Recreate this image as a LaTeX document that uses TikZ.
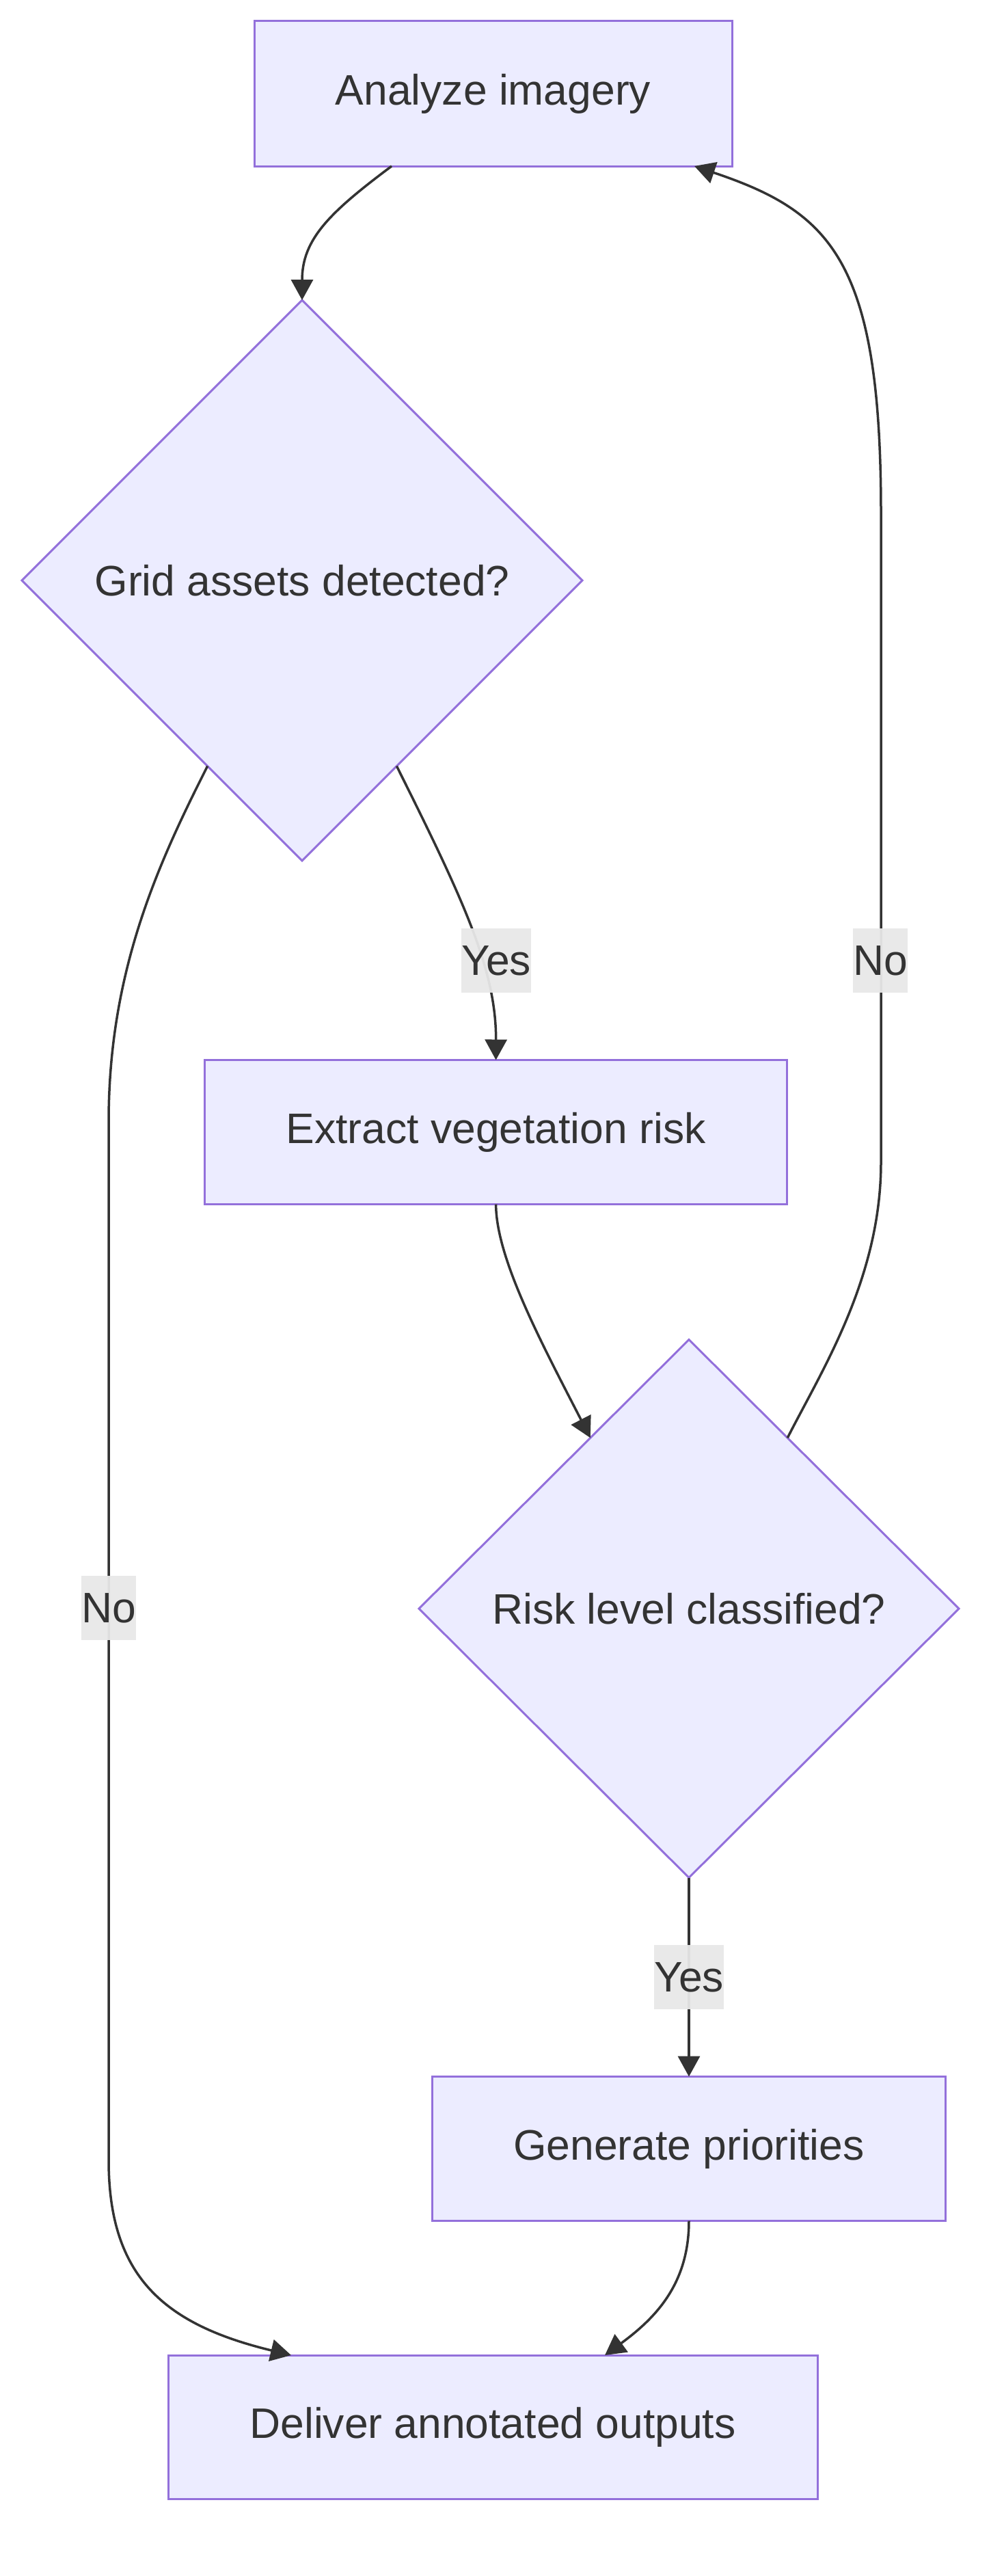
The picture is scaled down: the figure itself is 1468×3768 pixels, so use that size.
\documentclass[tikz,border=0pt]{standalone}
\usepackage{fontspec}
\setmainfont{Liberation Sans}
\usetikzlibrary{shapes.geometric,arrows.meta,calc}
\definecolor{nodefill}{HTML}{ECECFF}
\definecolor{nodeline}{HTML}{9370DB}
\definecolor{edgecol}{HTML}{333333}
\definecolor{labelbg}{HTML}{E8E8E8}
\tikzset{
  box/.style={draw=nodeline, fill=nodefill, line width=1.5pt, inner sep=0pt, outer sep=0pt,
    font=\fontsize{31.2pt}{37pt}\selectfont, text=edgecol},
  decision/.style={box, shape=diamond, aspect=1},
  edge/.style={draw=edgecol, line width=1.75pt, -{Triangle[length=15pt,width=16pt]}},
  elabel/.style={fill=labelbg, fill opacity=0.95, text opacity=1, text=edgecol, inner xsep=0pt, inner ysep=0pt,
    minimum height=47pt, font=\fontsize{31.2pt}{37pt}\selectfont},
}
\begin{document}
\begin{tikzpicture}[x=0.5pt, y=-0.5pt]
\useasboundingbox (0,0) rectangle (1468,3768);
% nodes
\node[box, minimum width=349.5pt, minimum height=106pt] (A) at (721.5,137) {Analyze imagery};
\node[decision, minimum width=410pt, minimum height=410pt] (B) at (442,849) {Grid assets detected?};
\node[box, minimum width=426pt, minimum height=105.5pt] (C) at (725.6,1656) {Extract vegetation risk};
\node[decision, minimum width=395pt, minimum height=393.5pt] (D) at (1008,2353) {Risk level classified?};
\node[box, minimum width=375.5pt, minimum height=105.5pt] (E) at (1008,3143) {Generate priorities};
\node[box, minimum width=475pt, minimum height=105pt] (F) at (721,3550) {Deliver annotated outputs};
% edges
\draw[edge] ($(A.south)+(-148.5,0)$) .. controls (482,311) and (442,350) .. (B.north);
\draw[edge] (B.-63) .. controls (680,1320) and (726,1420) .. (C.north);
\draw[edge] (B.-117) .. controls (232,1262) and (159,1420) .. (159,1640) -- (159,3160)
  .. controls (159,3330) and (240,3400) .. ($(F.north)+(-295,0)$);
\draw[edge] (C.south) .. controls (726,1840) and (790,1960) .. (D.120);
\draw[edge] (D.60) .. controls (1202,2005) and (1289,1870) .. (1289,1700) -- (1289,750)
  .. controls (1289,380) and (1215,310) .. ($(A.south)+(294.5,0)$);
\draw[edge] (D.south) -- (E.north);
\draw[edge] (E.south) .. controls (1008,3340) and (960,3390) .. ($(F.north)+(164,0)$);
% labels
\node[elabel] (L1) at (726,1405) {Yes};
\node[elabel] (L2) at (159,2352) {No};
\node[elabel] (L3) at (1288,1405) {No};
\node[elabel] (L4) at (1008,2892) {Yes};
\end{tikzpicture}
\end{document}
